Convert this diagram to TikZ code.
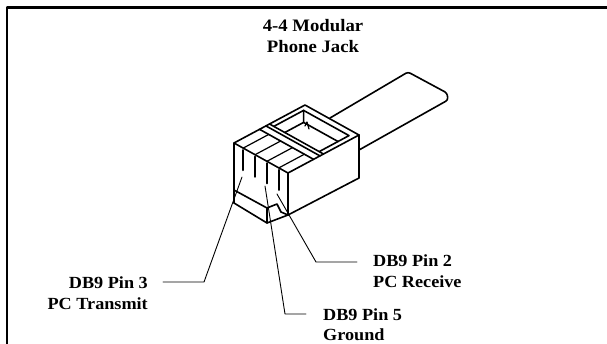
\documentclass[tikz,border=0pt]{standalone}
\usepackage{fontspec}
\setmainfont{Liberation Serif}[FakeStretch=1.07]
\begin{document}
\begin{tikzpicture}[x=1pt, y=-1pt, line join=round, line cap=round,
	body/.style={line width=1.6pt},
	groove/.style={line width=1.2pt},
	slot/.style={line width=2.3pt},
	leader/.style={line width=0.9pt},
	lbl/.style={font=\bfseries\fontsize{17}{20.5}\selectfont, inner sep=0pt}]
	\useasboundingbox (0,0) rectangle (607,343);
	% frame
	\draw[line width=2.5pt] (7,350) -- (7,7.5) -- (615,7.5);
	% title
	\node[lbl, align=center, anchor=base, font=\bfseries\fontsize{17.5}{21}\selectfont] (title) at (313,52.7) {4-4 Modular\\Phone Jack};
	% cable
	\draw[body, rounded corners=2.5pt] (330,118) -- (408,72) -- (447,93) -- (448,100) -- (359,150);
	% plug body
	\draw[body] (234,203) -- (234,143) -- (288,173) -- (288,215);
	\draw[body] (234,143) -- (305,105) -- (359,135) -- (288,173);
	\draw[body] (359,135) -- (359,178) -- (288,215);
	% latch
	\draw[body] (234,190) -- (267,208) -- (277,204) -- (281,212) -- (288,215);
	\draw[body] (234,203) -- (267,223) -- (288,215);
	\draw[body] (267,208) -- (267,223);
	% contacts
	\foreach \s in {0.17,0.39,0.61,0.83} {
		\draw[groove] ({234+54*\s},{143+30*\s}) -- ++({71*0.36},{-38*0.36});
		\draw[slot] ({234+54*\s},{145+30*\s}) -- ++(0,20);
	}
	% cross bar
	\foreach \t in {0.36,0.45,0.5}
		\draw[body] ({234+71*\t},{143-38*\t}) -- ++(54,30);
	% cord recess
	\draw[body] (273.8,126.4) -- (303.6,110.4) -- (349,135.6) -- (319.2,151.6);
	\draw[body] (303.6,110.4) -- (303.6,122.4) -- (338,141.5);
	\draw[body] (303.6,122.4) -- (284.8,132.5);
	\draw[groove] (305,126) -- (307,122) -- (309,129);
	% labels
	\node[lbl, align=right, anchor=base east] (pin3) at (148,309.3) {DB9 Pin 3\\PC Transmit};
	\node[lbl, align=left, anchor=base west] (pin2) at (373,287) {DB9 Pin 2\\PC Receive};
	\node[lbl, align=left, anchor=base west] (pin5) at (323,340.5) {DB9 Pin 5\\Ground};
	\coordinate (tip3) at (242,177);
	\coordinate (tip5) at (265,186);
	\coordinate (tip2) at (277,194);
	\draw[leader] ([shift={(15pt,27.3pt)}]pin3.base east) -- ++(41,0) -- (tip3);
	\draw[leader] ([shift={(-16pt,25pt)}]pin2.base west) -- ++(-41,0) -- (tip2);
	\draw[leader] ([shift={(-17pt,26.5pt)}]pin5.base west) -- ++(-21,0) -- (tip5);
\end{tikzpicture}
\end{document}
